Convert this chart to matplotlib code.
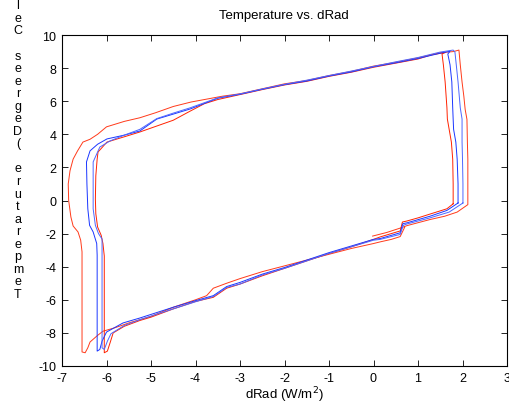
import matplotlib
matplotlib.use("Agg")
import matplotlib.pyplot as plt

# ---- data ----
loopA_x = [-0.02, 0.3, 0.62, 0.75, 1.27, 1.6, 1.88, 2.12,
           2.12, 2.12, 2.11, 2.1, 2.06, 2.03, 1.99, 1.95, 1.92,
           1.8, 1.5, 1.0, 0.5, 0.0, -0.5, -1.0, -1.5, -2.0, -2.5, -3.0, -3.4, -3.74, -4.1, -4.5, -4.9, -5.25, -5.6, -6.0,
           -6.2, -6.37, -6.53, -6.65, -6.75, -6.82, -6.86, -6.85, -6.8, -6.75, -6.64, -6.58, -6.55,
           -6.55, -6.55, -6.48, -6.42, -6.37, -6.2, -6.08, -5.8, -5.5, -5.0, -4.5, -4.0, -3.75, -3.6, -3.3, -3.0,
           -2.5, -2.0, -1.5, -1.0, -0.5, 0.0, 0.15, 0.4, 0.6, 0.7]
loopA_y = [-2.15, -1.93, -1.65, -1.52, -1.15, -0.95, -0.7, -0.25,
           1.0, 2.5, 3.5, 4.9, 5.5, 6.3, 7.16, 8.2, 9.09,
           9.0, 8.93, 8.62, 8.35, 8.12, 7.8, 7.55, 7.25, 7.05, 6.75, 6.45, 6.3, 6.13, 5.95, 5.68, 5.3, 5.0, 4.78, 4.45,
           4.0, 3.7, 3.53, 3.0, 2.5, 1.8, 1.0, 0.0, -1.0, -1.54, -1.9, -2.4, -3.1,
           -6.0, -9.15, -9.2, -8.9, -8.55, -8.15, -7.9, -7.68, -7.4, -7.0, -6.45, -6.0, -5.75, -5.3, -5.0, -4.72,
           -4.3, -3.95, -3.6, -3.25, -2.9, -2.6, -2.5, -2.35, -2.18, -1.62]

loopB_x = [1.79, 1.79, 1.78, 1.75, 1.7, 1.66, 1.65, 1.61, 1.57, 1.54, 1.62,
           1.3, 1.0, 0.5, 0.0, -0.5, -1.0, -1.5, -2.0, -2.5, -3.0, -3.5, -3.8, -4.12, -4.5, -4.87, -5.25, -5.6, -5.99,
           -6.1, -6.19, -6.21, -6.24, -6.25, -6.24, -6.2, -6.12, -6.08, -6.05, -6.05, -6.05,
           -5.98, -5.92, -5.85, -5.6, -5.25, -5.0, -4.5, -4.0, -3.6, -3.3, -3.0, -2.5, -2.0, -1.5, -1.0, -0.5, 0.0,
           0.15, 0.4, 0.6, 0.65, 0.75, 1.0, 1.27, 1.65, 1.79]
loopB_y = [-0.2, 1.0, 2.5, 3.53, 4.3, 4.92, 5.6, 7.16, 8.2, 8.85, 8.95,
           8.8, 8.55, 8.3, 8.05, 7.75, 7.5, 7.2, 6.98, 6.7, 6.4, 6.1, 5.85, 5.4, 4.85, 4.5, 4.14, 3.85, 3.53,
           3.2, 2.93, 2.5, 1.5, 0.09, -0.8, -1.6, -2.1, -2.6, -3.35, -6.0, -9.2,
           -9.1, -8.6, -8.0, -7.6, -7.25, -7.05, -6.55, -6.1, -5.85, -5.3, -5.05, -4.55, -4.1, -3.65, -3.2, -2.8, -2.35,
           -2.2, -2.0, -1.84, -1.3, -1.24, -1.05, -0.82, -0.5, -0.2]

loopC_x = [1.9, 1.9, 1.88, 1.85, 1.8, 1.79, 1.78, 1.76, 1.72, 1.67, 1.72,
           1.5, 1.0, 0.5, 0.0, -0.5, -1.0, -1.5, -2.0, -2.5, -3.0, -3.5, -4.12, -4.5, -4.87, -5.25, -5.6, -5.99,
           -6.2, -6.37, -6.45, -6.44, -6.42, -6.38, -6.3, -6.22, -6.21, -6.21, -6.21,
           -6.15, -6.1, -6.0, -5.63, -5.25, -4.5, -4.0, -3.6, -3.3, -3.0, -2.5, -2.0, -1.5, -1.0, -0.5, 0.0,
           0.15, 0.6, 0.66, 0.75, 1.27, 1.65, 1.9]
loopC_y = [-0.15, 1.0, 2.5, 3.53, 4.3, 4.92, 5.6, 7.16, 8.2, 8.85, 9.02,
           8.9, 8.58, 8.32, 8.08, 7.77, 7.52, 7.22, 7.0, 6.72, 6.42, 6.18, 5.53, 5.22, 4.92, 4.2, 3.95, 3.72,
           3.4, 3.0, 2.33, 1.0, -0.5, -1.5, -1.9, -2.6, -3.3, -6.0, -9.1,
           -9.0, -8.5, -7.95, -7.4, -7.1, -6.45, -6.05, -5.75, -5.2, -4.95, -4.45, -4.05, -3.6, -3.15, -2.75, -2.35,
           -2.3, -1.95, -1.4, -1.35, -0.95, -0.6, -0.15]

loopD_x = [2.01, 2.01, 2.0, 1.99, 1.99, 1.95, 1.9, 1.86, 1.83, 1.79,
           1.5, 1.0, 0.5, 0.0, -0.5, -1.0, -1.5, -2.0, -2.5, -3.0, -3.5, -4.12, -4.5, -4.87, -5.25, -5.6, -5.92,
           -6.15, -6.3, -6.3, -6.3, -6.25, -6.18, -6.1, -6.1, -6.1,
           -6.05, -5.98, -5.9, -5.6, -5.25, -4.5, -4.0, -3.6, -3.3, -3.0, -2.5, -2.0, -1.5, -1.0, -0.5, 0.0,
           0.15, 0.6, 0.67, 0.75, 1.27, 1.7, 2.01]
loopD_y = [-0.15, 1.0, 2.5, 3.53, 4.92, 5.6, 7.16, 8.2, 8.97, 9.09,
           8.97, 8.64, 8.38, 8.1, 7.82, 7.55, 7.27, 7.02, 6.74, 6.44, 6.2, 5.6, 5.28, 4.95, 4.3, 3.95, 3.6,
           3.23, 2.33, 1.0, -0.5, -1.5, -2.0, -2.33, -4.0, -8.9,
           -9.0, -8.5, -8.05, -7.55, -7.2, -6.55, -6.12, -5.8, -5.25, -5.05, -4.5, -4.1, -3.65, -3.2, -2.8, -2.4,
           -2.35, -2.05, -1.5, -1.42, -1.05, -0.7, -0.15]

title = "Temperature vs. dRad"
xlabel = "dRad (W/m$^2$)"
ylabel = "Temperature (Degrees Cel"   # only this part is visible in the reference
xticks = [-7, -6, -5, -4, -3, -2, -1, 0, 1, 2, 3]
yticks = [-10, -8, -6, -4, -2, 0, 2, 4, 6, 8, 10]

# ---- figure ----
plt.rcParams['font.family'] = ['Liberation Sans', 'DejaVu Sans']
plt.rcParams['axes.unicode_minus'] = False
W, H = 510, 406
fig = plt.figure(figsize=(W / 100, H / 100), dpi=100)
ax = fig.add_axes([62 / W, (H - 367) / H, 445 / W, 331 / H])

ax.plot(loopA_x, loopA_y, color='#ff3a1a', lw=0.7)
ax.plot(loopB_x, loopB_y, color='#ff2200', lw=0.7)
ax.plot(loopC_x, loopC_y, color='#1a36ff', lw=0.7)
ax.plot(loopD_x, loopD_y, color='#4d66ff', lw=0.7)

ax.set_xlim(-7, 3)
ax.set_ylim(-10, 10)
ax.set_xticks(xticks)
ax.set_yticks(yticks)
ax.tick_params(direction='in', length=4, width=0.6, labelsize=9,
               top=True, right=True, pad=4)
for s in ax.spines.values():
    s.set_linewidth(0.8)

fig.text(284 / W, 1 - 16 / H, title, ha='center', va='center', fontsize=9.5)
fig.text(284 / W, 1 - 395 / H, xlabel, ha='center', va='center', fontsize=9.5)

# stacked, reversed y-label characters
for i, ch in enumerate(ylabel):
    if ch == ' ':
        continue
    yb = 298 - i * 12.55
    fig.text(18 / W, 1 - yb / H, ch, ha='center', va='baseline', fontsize=9)

fig.savefig('out.png', dpi=100)
